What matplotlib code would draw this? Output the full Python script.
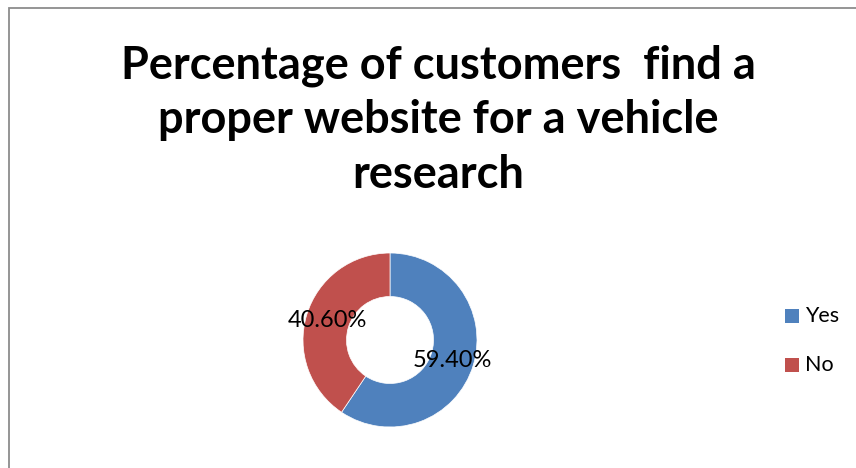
import matplotlib.pyplot as plt
from matplotlib.patches import Rectangle

# --- data ---
labels = ["Yes", "No"]
shares = [59.40, 40.60]
colors = ["#4F81BD", "#C0504D"]
title = "Percentage of customers  find a\nproper website for a vehicle\nresearch"

plt.rcParams['font.family'] = ['Lato', 'DejaVu Sans']

fig = plt.figure(figsize=(8.56, 4.68), dpi=100)

# chart area frame (left and top edges show)
W, H = 856, 468
fig.add_artist(Rectangle((8.5 / W, -0.01), 1.1, (H - 7.5) / H + 0.01,
                         transform=fig.transFigure, fill=False,
                         edgecolor="#8C8C8C", linewidth=1.3))

fig.text(438 / W, 1 - 120 / H, title, ha="center", va="center",
         fontsize=32.5, fontweight="bold", linespacing=1.37)

# donut
cx, cy, r = 390, 340, 87
ax = fig.add_axes([(cx - r) / W, 1 - (cy + r) / H, 2 * r / W, 2 * r / H])
wedges, _ = ax.pie(shares, colors=colors, startangle=90, counterclock=False,
                   radius=1.0, wedgeprops=dict(width=0.5, edgecolor="white",
                                               linewidth=0.5))
ax.set_xlim(-1, 1)
ax.set_ylim(-1, 1)
ax.set_aspect("equal")

# percentage labels
ax.text(0.72, -0.23, f"{shares[0]:.2f}%", ha="center", va="center", fontsize=17)
ax.text(-0.72, 0.22, f"{shares[1]:.2f}%", ha="center", va="center", fontsize=17)

# legend
for i, (lab, col) in enumerate(zip(labels, colors)):
    y = 316 + i * 49
    fig.add_artist(Rectangle((785 / W, 1 - (y + 7) / H), 14 / W, 14 / H,
                             transform=fig.transFigure, facecolor=col,
                             edgecolor="none"))
    fig.text(805 / W, 1 - y / H, lab, ha="left", va="center", fontsize=15.5)

fig.savefig("out.png", dpi=100)
